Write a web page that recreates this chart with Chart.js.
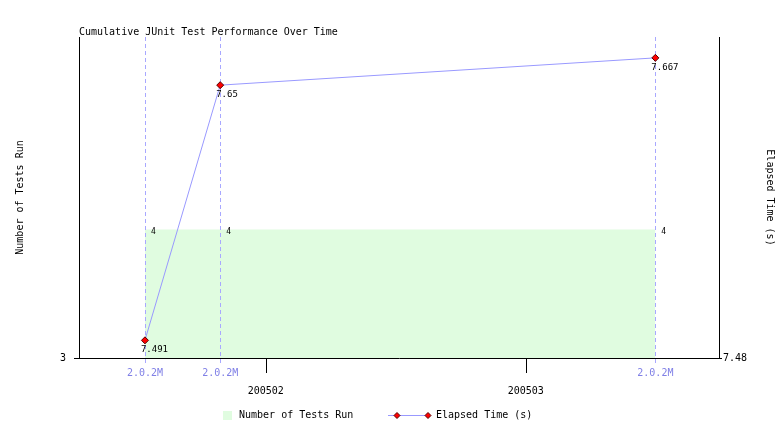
<!DOCTYPE html>
<html>
<head>
<meta charset="utf-8">
<script src="https://cdn.jsdelivr.net/npm/chart.js@4.4.1/dist/chart.umd.min.js"></script>
<style>
  html, body { margin: 0; padding: 0; background: #fff; }
</style>
</head>
<body>
<canvas id="perfChart" width="780" height="437"></canvas>
<script>
// build dates as day of 2005 (Jan 1 = 0)
const buildDays = [18, 26.1, 72.95];
const buildLabels = ['2.0.2M', '2.0.2M', '2.0.2M'];
const testsRun = [4, 4, 4];
const elapsedSecs = [7.491, 7.65, 7.667];
const monthDays = [31, 59];
const monthLabels = ['200502', '200503'];
const testsTicks = [3];
const elapsedTicks = [7.48];

const FONT = '"DejaVu Sans Mono", monospace';
const LINE_BLUE = '#9999ff';
const GREEN = '#e0fce0';

function diamond(ctx, x, y, r) {
  ctx.beginPath();
  ctx.moveTo(x, y - r);
  ctx.lineTo(x + r, y);
  ctx.lineTo(x, y + r);
  ctx.lineTo(x - r, y);
  ctx.closePath();
  ctx.fillStyle = '#ff0000';
  ctx.fill();
  ctx.strokeStyle = '#550000';
  ctx.lineWidth = 1;
  ctx.stroke();
}

const decor = {
  id: 'decor',
  afterDatasetDraw(chart, args) {
    if (args.index !== 1) return; // after the green fill, before the line
    const { ctx, chartArea, scales } = chart;
    ctx.save();
    ctx.strokeStyle = '#a8a8ff';
    ctx.lineWidth = 1;
    ctx.setLineDash([4, 3]);
    buildDays.forEach(d => {
      const x = Math.round(scales.x.getPixelForValue(d)) + 0.5;
      ctx.beginPath();
      ctx.moveTo(x, chartArea.top);
      ctx.lineTo(x, chartArea.bottom + 6);
      ctx.stroke();
    });
    ctx.restore();
  },
  afterDatasetsDraw(chart) {
    const { ctx } = chart;
    ctx.save();
    ctx.fillStyle = '#000';
    ctx.textAlign = 'left';
    ctx.textBaseline = 'top';
    ctx.font = '9px ' + FONT;
    chart.getDatasetMeta(0).data.forEach((pt, i) => {
      ctx.fillText(String(elapsedSecs[i]), pt.x - 4, pt.y + 5);
    });
    ctx.font = '8px ' + FONT;
    ctx.textBaseline = 'middle';
    chart.getDatasetMeta(1).data.forEach((pt, i) => {
      ctx.fillText(String(testsRun[i]), pt.x + 6, pt.y + 2);
    });
    ctx.restore();
  },
  afterDraw(chart) {
    const { ctx, chartArea, scales } = chart;
    ctx.save();
    // title
    ctx.fillStyle = '#000';
    ctx.font = '10px ' + FONT;
    ctx.textAlign = 'left';
    ctx.textBaseline = 'middle';
    ctx.fillText('Cumulative JUnit Test Performance Over Time', chartArea.left, chartArea.top - 5);
    // month tick marks
    ctx.strokeStyle = '#000';
    ctx.lineWidth = 1;
    monthDays.forEach(d => {
      const x = Math.round(scales.x.getPixelForValue(d)) + 0.5;
      ctx.beginPath();
      ctx.moveTo(x, chartArea.bottom);
      ctx.lineTo(x, chartArea.bottom + 15);
      ctx.stroke();
    });
    // legend
    const ly = 415;
    ctx.fillStyle = GREEN;
    ctx.fillRect(223, 411, 9, 9);
    ctx.fillStyle = '#000';
    ctx.fillText('Number of Tests Run', 239, ly);
    ctx.strokeStyle = LINE_BLUE;
    ctx.beginPath();
    ctx.moveTo(388, ly + 0.5);
    ctx.lineTo(430, ly + 0.5);
    ctx.stroke();
    diamond(ctx, 397, ly + 0.5, 3);
    diamond(ctx, 428, ly + 0.5, 3);
    ctx.fillStyle = '#000';
    ctx.fillText('Elapsed Time (s)', 436, ly);
    ctx.restore();
  }
};

const ctx = document.getElementById('perfChart').getContext('2d');
new Chart(ctx, {
  type: 'line',
  data: {
    datasets: [
      {
        label: 'Elapsed Time (s)',
        data: buildDays.map((d, i) => ({ x: d, y: elapsedSecs[i] })),
        yAxisID: 'y2',
        borderColor: LINE_BLUE,
        borderWidth: 1,
        tension: 0,
        fill: false,
        pointStyle: 'rectRot',
        pointRadius: 3.5,
        pointBackgroundColor: '#ff0000',
        pointBorderColor: '#550000',
        pointBorderWidth: 1
      },
      {
        label: 'Number of Tests Run',
        data: buildDays.map((d, i) => ({ x: d, y: testsRun[i] })),
        yAxisID: 'y',
        borderWidth: 0,
        borderColor: 'rgba(0,0,0,0)',
        backgroundColor: GREEN,
        pointRadius: 0,
        fill: 'start'
      }
    ]
  },
  options: {
    responsive: false,
    animation: false,
    layout: { padding: { top: 37, left: 0, right: 0, bottom: 0 } },
    plugins: {
      legend: { display: false },
      title: { display: false },
      tooltip: { enabled: false }
    },
    scales: {
      x: {
        type: 'linear',
        min: 10.9,
        max: 79.8,
        afterBuildTicks: s => {
          s.ticks = buildDays.concat(monthDays).sort((a, b) => a - b).map(v => ({ value: v }));
        },
        afterFit: s => { s.height = 79; },
        grid: { display: false, drawTicks: false },
        border: { display: true, color: '#000', width: 1 },
        ticks: {
          autoSkip: false,
          maxRotation: 0,
          padding: 9,
          callback: v => {
            const m = monthDays.indexOf(v);
            if (m >= 0) return ['', monthLabels[m]];
            const b = buildDays.indexOf(v);
            return b >= 0 ? buildLabels[b] : '';
          },
          color: c => (c.tick && monthDays.includes(c.tick.value)) ? '#000' : '#8080e6',
          font: c => ({
            family: FONT,
            size: 10,
            lineHeight: (c.tick && monthDays.includes(c.tick.value)) ? 1.6 : 1.2
          })
        }
      },
      y: {
        position: 'left',
        min: 3,
        max: 5.5,
        afterBuildTicks: s => { s.ticks = testsTicks.map(v => ({ value: v })); },
        afterFit: s => { s.width = 79; },
        grid: { drawOnChartArea: false, drawTicks: true, tickLength: 5, color: '#000' },
        border: { color: '#000', width: 1 },
        ticks: {
          color: '#000',
          padding: 8,
          font: { family: FONT, size: 10 },
          callback: v => String(v)
        },
        title: {
          display: true,
          text: 'Number of Tests Run',
          color: '#000',
          font: { family: FONT, size: 10 },
          padding: { top: 14, bottom: 0 }
        }
      },
      y2: {
        position: 'right',
        min: 7.48,
        max: 7.68,
        afterBuildTicks: s => { s.ticks = elapsedTicks.map(v => ({ value: v })); },
        afterFit: s => { s.width = 61; },
        grid: { drawOnChartArea: false, drawTicks: true, tickLength: 3, color: '#000' },
        border: { color: '#000', width: 1 },
        ticks: {
          color: '#000',
          padding: 1,
          font: { family: FONT, size: 10 },
          callback: v => String(v)
        },
        title: {
          display: true,
          text: 'Elapsed Time (s)',
          color: '#000',
          font: { family: FONT, size: 10 },
          padding: { top: 4, bottom: 0 }
        }
      }
    }
  },
  plugins: [decor]
});
</script>
</body>
</html>
